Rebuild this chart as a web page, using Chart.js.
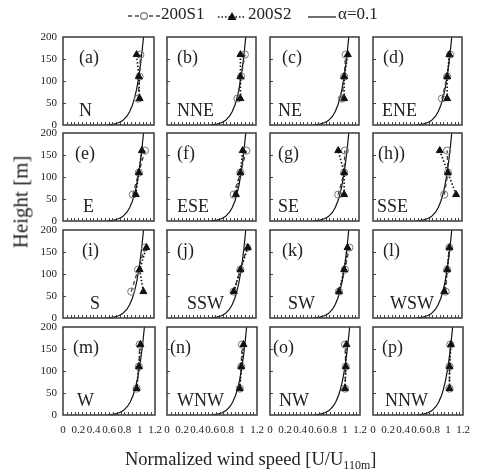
<!DOCTYPE html>
<html>
<head>
<meta charset="utf-8">
<script src="https://cdn.jsdelivr.net/npm/chart.js@4"></script>
<style>
  html, body { margin: 0; padding: 0; background: #fff; }
  #wrap { position: relative; width: 480px; height: 471px; overflow: hidden; background: #fff;
          font-family: "Liberation Serif", "Times New Roman", serif; color: #222; }
  canvas { position: absolute; }
  .lbl { position: absolute; font-size: 18px; line-height: 1; white-space: nowrap; color: #222; }
  .leg { position: absolute; font-size: 17px; line-height: 1; white-space: nowrap; color: #222; }
  .legsym { position: absolute; }
</style>
</head>
<body>
<div id="wrap"></div>
<script>
// ---------------- DATA ----------------
const heights = [60, 110, 160];
const panelLetters = ['(a)','(b)','(c)','(d)','(e)','(f)','(g)','(h))','(i)','(j)','(k)','(l)','(m)','(n)','(o)','(p)'];
const directions = ['N','NNE','NE','ENE','E','ESE','SE','SSE','S','SSW','SW','WSW','W','WNW','NW','NNW'];
// 200S1 normalized speeds at heights 60, 110, 160 m
const s1Speeds = [
  [0.99, 1.01, 1.02], [0.95, 1.00, 1.05], [0.97, 1.00, 1.02], [0.93, 1.00, 1.04],
  [0.92, 1.00, 1.08], [0.90, 0.99, 1.07], [0.92, 1.00, 1.01], [0.96, 1.01, 1.00],
  [0.90, 0.99, 1.08], [0.90, 0.99, 1.08], [0.93, 1.01, 1.07], [0.98, 1.00, 1.03],
  [0.96, 0.99, 1.00], [0.97, 0.99, 1.00], [1.00, 1.01, 1.00], [1.02, 1.02, 1.03]
];
// 200S2 normalized speeds at heights 60, 110, 160 m
const s2Speeds = [
  [1.01, 1.00, 0.97], [0.99, 0.99, 0.99], [1.00, 1.00, 1.05], [1.00, 1.00, 1.03],
  [0.96, 1.00, 1.04], [0.93, 0.99, 1.02], [1.00, 1.00, 0.92], [1.12, 1.01, 0.90],
  [1.06, 1.01, 1.10], [0.90, 0.99, 1.09], [0.93, 1.00, 1.045], [0.96, 1.00, 1.03],
  [0.96, 0.99, 1.01], [0.97, 0.99, 1.02], [1.00, 1.01, 1.02], [1.02, 1.02, 1.04]
];
// alpha = 0.1 reference profile (height, normalized speed)
const curveHeights = [0.5, 1, 2, 5, 10, 20, 30, 45, 60, 80, 110, 140, 170, 200];
const curveSpeeds  = [0.583, 0.625, 0.670, 0.734, 0.787, 0.843, 0.878, 0.915, 0.941, 0.969, 1.000, 1.024, 1.044, 1.062];
const xTickLabels = ['0', '0.2', '0.4', '0.6', '0.8', '1', '1.2'];
const yTickLabels = ['0', '50', '100', '150', '200'];

// ---------------- LAYOUT ----------------
const colLefts = [63, 165, 268, 371];
const rowTops = [37, 133, 230, 327];
const plotW = 92, plotH = 88;
const letterOffX = [16,12,14,12, 12,12,10,7, 19,12,14,12, 10,5,5,11];
const dirOffX    = [16,12,10,11, 20,12,10,6, 27,22,20,19, 14,12,11,14];
const FONT = '"Liberation Serif", "Times New Roman", serif';

const wrap = document.getElementById('wrap');

const framePlugin = {
  id: 'frame',
  afterDatasetsDraw(chart) {
    const {ctx, chartArea: a, scales} = chart;
    ctx.save();
    ctx.strokeStyle = '#444';
    ctx.lineWidth = 1;
    // inward minor ticks on x axis every 0.05
    for (let k = 1; k < 24; k++) {
      const px = Math.round(scales.x.getPixelForValue(k * 0.05)) + 0.5;
      ctx.beginPath(); ctx.moveTo(px, a.bottom); ctx.lineTo(px, a.bottom - 3); ctx.stroke();
    }
    // inward ticks on y axis
    for (let k = 1; k < yTickLabels.length - 1; k++) {
      const py = Math.round(scales.y.getPixelForValue(Number(yTickLabels[k]))) + 0.5;
      ctx.beginPath(); ctx.moveTo(a.left, py); ctx.lineTo(a.left + 3, py); ctx.stroke();
    }
    ctx.lineWidth = 1.5;
    ctx.strokeStyle = '#3a3a3a';
    ctx.strokeRect(a.left, a.top, a.right - a.left, a.bottom - a.top);
    ctx.restore();
  }
};

function makePanel(i) {
  const r = Math.floor(i / 4), c = i % 4;
  const padL = c === 0 ? 40 : 3, padT = 8, padR = r === 3 ? 11 : 4, padB = r === 3 ? 26 : 6;
  const cv = document.createElement('canvas');
  cv.width = plotW + padL + padR;
  cv.height = plotH + padT + padB;
  cv.style.left = (colLefts[c] - padL) + 'px';
  cv.style.top = (rowTops[r] - padT) + 'px';
  cv.style.width = cv.width + 'px';
  cv.style.height = cv.height + 'px';
  wrap.appendChild(cv);

  const curveData = curveHeights.map((h, k) => ({x: curveSpeeds[k], y: h}));
  const s1Data = heights.map((h, k) => ({x: s1Speeds[i][k], y: h}));
  const s2Data = heights.map((h, k) => ({x: s2Speeds[i][k], y: h}));

  new Chart(cv.getContext('2d'), {
    type: 'scatter',
    data: {
      datasets: [
        { label: '200S2', data: s2Data, showLine: true, order: 0,
          borderColor: '#111', borderWidth: 1.6, borderDash: [1.5, 2],
          pointStyle: 'triangle', pointRadius: 4, pointBackgroundColor: '#111', pointBorderColor: '#111', pointBorderWidth: 1 },
        { label: '200S1', data: s1Data, showLine: true, order: 1,
          borderColor: '#444', borderWidth: 1.4, borderDash: [4, 3],
          pointStyle: 'circle', pointRadius: 3.6, pointBackgroundColor: 'rgba(255,255,255,0)', pointBorderColor: '#777', pointBorderWidth: 1 },
        { label: 'α=0.1', data: curveData, showLine: true, order: 2,
          borderColor: '#111', borderWidth: 1.2, pointRadius: 0, tension: 0 }
      ]
    },
    options: {
      responsive: false,
      animation: false,
      events: [],
      layout: { padding: { left: 0, top: padT, right: padR, bottom: 0 } },
      plugins: { legend: { display: false }, tooltip: { enabled: false } },
      scales: {
        x: {
          type: 'linear', min: 0, max: 1.2,
          grid: { display: false, drawTicks: false },
          border: { display: false },
          ticks: {
            display: r === 3, stepSize: 0.2, autoSkip: false, maxRotation: 0, minRotation: 0,
            padding: 9, color: '#222', font: { family: FONT, size: 11 },
            callback: (v, idx) => xTickLabels[idx]
          },
          afterFit: s => { s.height = padB; s.paddingLeft = 0; s.paddingRight = 0; }
        },
        y: {
          type: 'linear', min: 0, max: 200,
          grid: { display: false, drawTicks: false },
          border: { display: false },
          ticks: {
            display: c === 0, stepSize: 50, padding: 6, color: '#222',
            font: { family: FONT, size: 11 },
            callback: (v, idx) => yTickLabels[idx]
          },
          afterFit: s => { s.width = padL; s.paddingTop = 0; s.paddingBottom = 0; }
        }
      }
    },
    plugins: [framePlugin]
  });

  const lt = document.createElement('div');
  lt.className = 'lbl';
  lt.textContent = panelLetters[i];
  lt.style.left = (colLefts[c] + letterOffX[i]) + 'px';
  lt.style.top = (rowTops[r] + 11) + 'px';
  wrap.appendChild(lt);

  const dl = document.createElement('div');
  dl.className = 'lbl';
  dl.textContent = directions[i];
  dl.style.left = (colLefts[c] + dirOffX[i]) + 'px';
  dl.style.top = (rowTops[r] + 64) + 'px';
  wrap.appendChild(dl);
}

for (let i = 0; i < 16; i++) makePanel(i);

// Legend
function addLegend(symSvg, symLeft, text, textLeft) {
  const s = document.createElement('div');
  s.className = 'legsym';
  s.style.left = symLeft + 'px';
  s.style.top = '8px';
  s.innerHTML = symSvg;
  wrap.appendChild(s);
  const t = document.createElement('div');
  t.className = 'leg';
  t.textContent = text;
  t.style.left = textLeft + 'px';
  t.style.top = '5px';
  wrap.appendChild(t);
}
addLegend('<svg width="34" height="12"><line x1="1" y1="6" x2="33" y2="6" stroke="#444" stroke-width="1.5" stroke-dasharray="4,3"/><circle cx="17" cy="6" r="3.3" fill="#fff" stroke="#777" stroke-width="1.2"/></svg>', 127, '200S1', 161);
addLegend('<svg width="30" height="12"><line x1="1" y1="7" x2="29" y2="7" stroke="#111" stroke-width="1.4" stroke-dasharray="1.5,2"/><polygon points="15,2 19.5,10 10.5,10" fill="#111"/></svg>', 217, '200S2', 248);
addLegend('<svg width="30" height="12"><line x1="1" y1="7" x2="29" y2="7" stroke="#111" stroke-width="1.2"/></svg>', 307, 'α=0.1', 338);

// Axis titles
const yt = document.createElement('div');
yt.className = 'lbl';
yt.style.fontSize = '21px';
yt.textContent = 'Height [m]';
yt.style.left = '21px';
yt.style.top = '202px';
yt.style.transform = 'translate(-50%, -50%) rotate(-90deg)';
wrap.appendChild(yt);

const xt = document.createElement('div');
xt.className = 'lbl';
xt.style.fontSize = '18.5px';
xt.innerHTML = 'Normalized wind speed [U/U<sub style="font-size:12px;vertical-align:-4px;">110m</sub>]';
xt.style.left = '125px';
xt.style.top = '450px';
wrap.appendChild(xt);
</script>
</body>
</html>
